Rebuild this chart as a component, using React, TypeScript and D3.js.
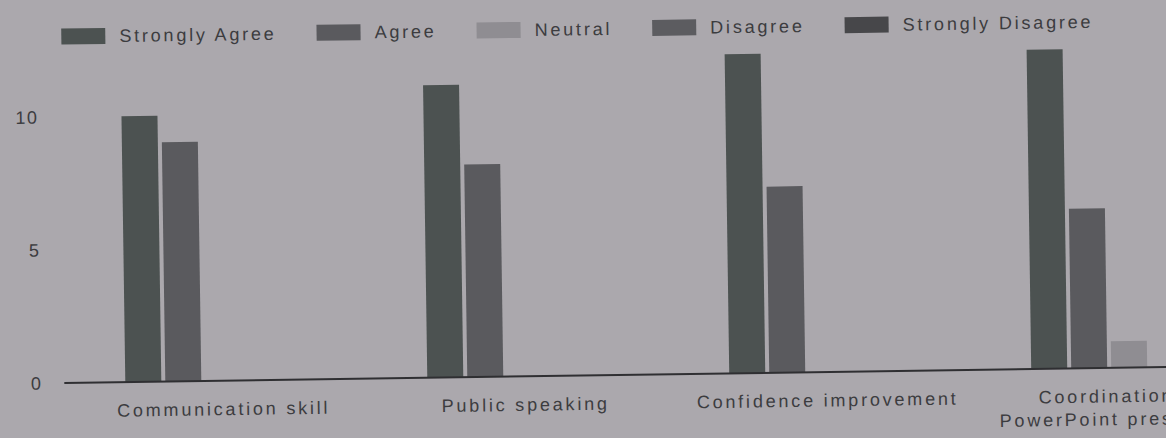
import { useEffect, useRef } from 'react';
import * as d3 from 'd3';

// survey data
const categories = [
    'Communication skill',
    'Public speaking',
    'Confidence improvement',
    'Coordination and PowerPoint presentation',
];
const seriesNames = ['Strongly Agree', 'Agree', 'Neutral', 'Disagree', 'Strongly Disagree'];
const stronglyAgree = [10, 11, 12, 12];
const agree = [9, 8, 7, 6];
const neutral = [0, 0, 0, 1];
const disagree = [0, 0, 0, 0];
const stronglyDisagree = [0, 0, 0, 0];
const yTicks = [0, 5, 10];

const seriesColors = ['#4c5251', '#5a5a5e', '#8f8d92', '#5c5c60', '#47474a'];

const WIDTH = 1166;
const HEIGHT = 438;
const FONT = '"Liberation Sans", Arial, sans-serif';

// wrap long category labels the way the spreadsheet did
function wrapLabel(label: string): string[] {
    const words = label.split(' ');
    const lines: string[] = [];
    let cur = '';
    words.forEach(w => {
        const next = cur ? cur + ' ' + w : w;
        if (next.length > 23 && cur) {
            lines.push(cur);
            cur = w;
        } else {
            cur = next;
        }
    });
    if (cur) lines.push(cur);
    return lines;
}

export default function App() {
    const svgRef = useRef<SVGSVGElement>(null);

    useEffect(() => {
        if (!svgRef.current) return;
        const svg = d3.select(svgRef.current);
        svg.selectAll('*').remove();

        const values = [stronglyAgree, agree, neutral, disagree, stronglyDisagree];

        svg.append('rect')
            .attr('width', WIDTH)
            .attr('height', HEIGHT)
            .attr('fill', '#aba8ad');

        // the scan is slightly tilted
        const g = svg.append('g').attr('transform', `rotate(-0.83, ${WIDTH / 2}, ${HEIGHT / 2})`);

        const x0 = d3.scaleBand<string>()
            .domain(categories)
            .range([62, 1286])
            .paddingInner(0.351)
            .paddingOuter(0.202);

        const x1 = d3.scaleBand<string>()
            .domain(seriesNames)
            .range([0, x0.bandwidth()])
            .paddingInner(0.1);

        const y = d3.scaleLinear()
            .domain([0, 12])
            .range([375.5, 56.3]);

        // bars
        categories.forEach((cat, ci) => {
            const grp = g.append('g').attr('transform', `translate(${x0(cat)},0)`);
            seriesNames.forEach((s, si) => {
                const v = values[si][ci];
                if (!v) return;
                grp.append('rect')
                    .attr('x', x1(s)!)
                    .attr('y', y(v))
                    .attr('width', x1.bandwidth())
                    .attr('height', y(0) - y(v))
                    .attr('fill', seriesColors[si]);
            });
        });

        // baseline
        g.append('line')
            .attr('x1', 62)
            .attr('x2', 1290)
            .attr('y1', y(0))
            .attr('y2', y(0))
            .attr('stroke', '#2f2f32')
            .attr('stroke-width', 2);

        // y tick labels
        g.selectAll('text.ytick')
            .data(yTicks)
            .join('text')
            .attr('class', 'ytick')
            .attr('x', 40)
            .attr('y', d => y(d))
            .attr('dy', '0.35em')
            .attr('text-anchor', 'end')
            .attr('font-family', FONT)
            .attr('font-size', 18)
            .attr('letter-spacing', 1.5)
            .attr('fill', '#3c3c3f')
            .text(d => d);

        // category labels
        categories.forEach(cat => {
            const lines = wrapLabel(cat);
            const cx = x0(cat)! + x0.bandwidth() / 2;
            const t = g.append('text')
                .attr('x', cx)
                .attr('y', 410)
                .attr('text-anchor', 'middle')
                .attr('font-family', FONT)
                .attr('font-size', 18)
                .attr('letter-spacing', 2.8)
                .attr('fill', '#3c3c3f');
            lines.forEach((ln, i) => {
                t.append('tspan')
                    .attr('x', cx)
                    .attr('dy', i === 0 ? 0 : 23)
                    .text(ln);
            });
        });

        // legend, laid out left to right from measured text widths
        const legend = g.append('g').attr('transform', 'translate(64,29)');
        let lx = 0;
        seriesNames.forEach((s, si) => {
            legend.append('rect')
                .attr('x', lx)
                .attr('y', -8)
                .attr('width', 44)
                .attr('height', 16)
                .attr('fill', seriesColors[si]);
            const txt = legend.append('text')
                .attr('x', lx + 58)
                .attr('y', 0)
                .attr('dy', '0.35em')
                .attr('font-family', FONT)
                .attr('font-size', 18)
                .attr('letter-spacing', 2.8)
                .attr('fill', '#3c3c3f')
                .text(s);
            const w = (txt.node() as SVGTextElement).getComputedTextLength();
            lx += 58 + w + 40;
        });
    }, []);

    return (
        <svg
            ref={svgRef}
            width={WIDTH}
            height={HEIGHT}
            style={{ position: 'absolute', left: 0, top: 0 }}
        />
    );
}
